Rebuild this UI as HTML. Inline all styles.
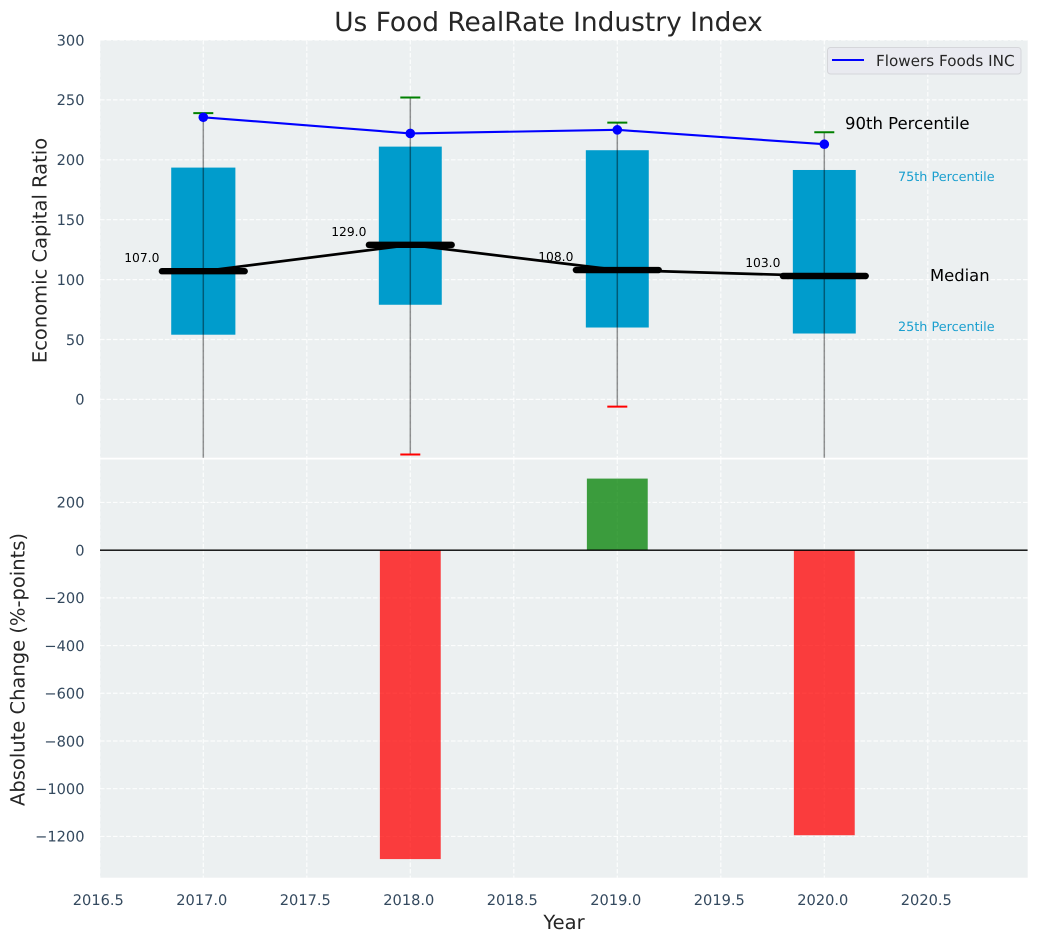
<!DOCTYPE html>
<html lang="en">
<head>
<meta charset="utf-8">
<title>Us Food RealRate Industry Index</title>
<style>
html,body{margin:0;padding:0;background:#fff;width:1039px;height:942px;overflow:hidden}
svg{display:block;font-family:"DejaVu Sans","Liberation Sans",sans-serif;text-rendering:geometricPrecision}
</style>
</head>
<body>
<svg id="chart" xmlns="http://www.w3.org/2000/svg" width="1039" height="942" viewBox="0 0 1039 942">
  <defs>
    <clipPath id="clip-top"><rect x="100" y="40" width="927.7" height="417.7"/></clipPath>
    <clipPath id="clip-bottom"><rect x="100" y="459.5" width="927.7" height="418.2"/></clipPath>
  </defs>
  <rect x="100" y="40" width="927.7" height="417.7" fill="#ecf0f1"/>
  <rect x="100" y="459.5" width="927.7" height="418.2" fill="#ecf0f1"/>
  <g id="grid"></g>
  <g id="ticks" fill="#34495e" font-size="14.6"></g>
  <g id="top-marks" clip-path="url(#clip-top)"></g>
  <g id="bottom-marks" clip-path="url(#clip-bottom)"></g>
  <g id="labels"></g>
  <text x="548.5" y="31" text-anchor="middle" font-size="26.4" fill="#262626">Us Food RealRate Industry Index</text>
  <text transform="translate(46.5,250.5) rotate(-90)" text-anchor="middle" font-size="19.5" fill="#262626">Economic Capital Ratio</text>
  <text transform="translate(24.5,669.5) rotate(-90)" text-anchor="middle" font-size="19.5" fill="#262626">Absolute Change (%-points)</text>
  <text x="564" y="929" text-anchor="middle" font-size="19.5" fill="#262626">Year</text>
  <g>
    <rect x="827.5" y="47.5" width="193.5" height="26.5" rx="3" fill="#e9eaf0" stroke="#d5d6da" stroke-width="1"/>
    <line x1="832" y1="60" x2="864" y2="60" stroke="#0000ff" stroke-width="2"/>
    <text x="876" y="66" font-size="15.2" fill="#262626">Flowers Foods INC</text>
  </g>
  <text x="845" y="129" font-size="16.5" fill="#000">90th Percentile</text>
  <text x="898" y="181" font-size="12.8" fill="#1a9fcf">75th Percentile</text>
  <text x="930" y="281" font-size="16.4" fill="#000">Median</text>
  <text x="898" y="331" font-size="12.8" fill="#1a9fcf">25th Percentile</text>
</svg>
<script>
const years = [2017, 2018, 2019, 2020];
const p90 = [239, 252, 231, 223];
const p75 = [193.5, 211, 208, 191.5];
const median = [107, 129, 108, 103];
const p25 = [54, 79, 60, 55];
const p10 = [-100, -46, -6, -100];
const company = [235.5, 222, 225, 213];
const changeYears = [2018, 2019, 2020];
const changes = [-1295, 300, -1195];
const xTicks = [2016.5, 2017, 2017.5, 2018, 2018.5, 2019, 2019.5, 2020, 2020.5];
const xTickLabels = ['2016.5', '2017.0', '2017.5', '2018.0', '2018.5', '2019.0', '2019.5', '2020.0', '2020.5'];
const topTicks = [0, 50, 100, 150, 200, 250, 300];
const topTickLabels = ['0', '50', '100', '150', '200', '250', '300'];
const bottomTicks = [200, 0, -200, -400, -600, -800, -1000, -1200];
const bottomTickLabels = ['200', '0', '\u2212200', '\u2212400', '\u2212600', '\u2212800', '\u22121000', '\u22121200'];

const NS = 'http://www.w3.org/2000/svg';
const xS = v => 203.3 + (v - 2017) * 207;
const yTop = v => 399.4 - v * 1.198;
const yBottom = v => 550.15 - v * 0.23856;

function mk(tag, attrs, parent, text) {
  const el = document.createElementNS(NS, tag);
  for (const k in attrs) el.setAttribute(k, attrs[k]);
  if (text !== undefined) el.textContent = text;
  parent.appendChild(el);
  return el;
}

const grid = document.getElementById('grid');
const ticks = document.getElementById('ticks');
const topMarks = document.getElementById('top-marks');
const bottomMarks = document.getElementById('bottom-marks');
const labels = document.getElementById('labels');
const gridStyle = { stroke: '#ffffff', 'stroke-width': 1.2, 'stroke-opacity': 0.85, 'stroke-dasharray': '4.5 2' };

xTicks.forEach((v, i) => {
  const a = mk('line', Object.assign({ x1: xS(v), x2: xS(v), y1: 40, y2: 457.7 }, gridStyle), grid);
  
  
  const b = mk('line', Object.assign({ x1: xS(v), x2: xS(v), y1: 459.5, y2: 877.7 }, gridStyle), grid);
  
  
  const t = mk('text', { x: xS(v) - 1.5, y: 905, 'text-anchor': 'middle' }, ticks, xTickLabels[i]);
  
  
});

topTicks.forEach((v, i) => {
  const g = mk('line', Object.assign({ x1: 100, x2: 1027.7, y1: yTop(v), y2: yTop(v) }, gridStyle), grid);
  
  
  const t = mk('text', { x: 84.5, y: yTop(v) + 5.3, 'text-anchor': 'end' }, ticks, topTickLabels[i]);
  
  
});

bottomTicks.forEach((v, i) => {
  const g = mk('line', Object.assign({ x1: 100, x2: 1027.7, y1: yBottom(v), y2: yBottom(v) }, gridStyle), grid);
  
  
  const t = mk('text', { x: 84.5, y: yBottom(v) + 5.3, 'text-anchor': 'end' }, ticks, bottomTickLabels[i]);
  
  
});

years.forEach((yr, i) => {
  const halfWidth = i === 0 ? 0.155 : 0.152;
  const box = mk('rect', { x: xS(yr - halfWidth), width: xS(yr + halfWidth) - xS(yr - halfWidth), y: yTop(p75[i]), height: yTop(p25[i]) - yTop(p75[i]), fill: '#009ccc' }, topMarks);
  
  
});

const medianPath = mk('polyline', { points: years.map((yr, i) => xS(yr) + ',' + yTop(median[i])).join(' '), fill: 'none', stroke: '#000', 'stroke-width': 2.7 }, topMarks);



years.forEach((yr, i) => {
  const x = xS(yr);
  const whisker = mk('line', { x1: x, x2: x, y1: yTop(p90[i]), y2: yTop(p10[i]), stroke: '#000', 'stroke-opacity': 0.42, 'stroke-width': 1.5 }, topMarks);
  
  
  const hi = mk('line', { x1: x - 10, x2: x + 10, y1: yTop(p90[i]), y2: yTop(p90[i]), stroke: '#008000', 'stroke-width': 2 }, topMarks);
  
  
  const lo = mk('line', { x1: x - 10, x2: x + 10, y1: yTop(p10[i]), y2: yTop(p10[i]), stroke: '#ff0000', 'stroke-width': 2 }, topMarks);
  
  
  const med = mk('line', { x1: xS(yr - 0.2), x2: xS(yr + 0.2), y1: yTop(median[i]), y2: yTop(median[i]), stroke: '#000', 'stroke-width': 6.4, 'stroke-linecap': 'round' }, topMarks);
  
  
  const lab = mk('text', { x: xS(yr - 0.297), y: yTop(median[i]) - 9, 'text-anchor': 'middle', 'font-size': 12.3, fill: '#000' }, labels, median[i].toFixed(1));
  
  
});

const companyPath = mk('polyline', { points: years.map((yr, i) => xS(yr) + ',' + yTop(company[i])).join(' '), fill: 'none', stroke: '#0000ff', 'stroke-width': 2.1 }, topMarks);


years.forEach((yr, i) => {
  const dot = mk('circle', { cx: xS(yr), cy: yTop(company[i]), r: 4.8, fill: '#0000ff' }, topMarks);
  
  
});

changeYears.forEach((yr, i) => {
  const v = changes[i];
  const y0 = yBottom(Math.max(v, 0));
  const y1 = yBottom(Math.min(v, 0));
  const bar = mk('rect', { x: xS(yr - 0.147), width: xS(yr + 0.147) - xS(yr - 0.147), y: y0, height: y1 - y0, fill: v < 0 ? '#ff0000' : '#008000', 'fill-opacity': 0.75 }, bottomMarks);
  
  
});
const zero = mk('line', { x1: 100, x2: 1027.7, y1: yBottom(0), y2: yBottom(0), stroke: '#000', 'stroke-width': 1.4 }, bottomMarks);


</script>
</body>
</html>
